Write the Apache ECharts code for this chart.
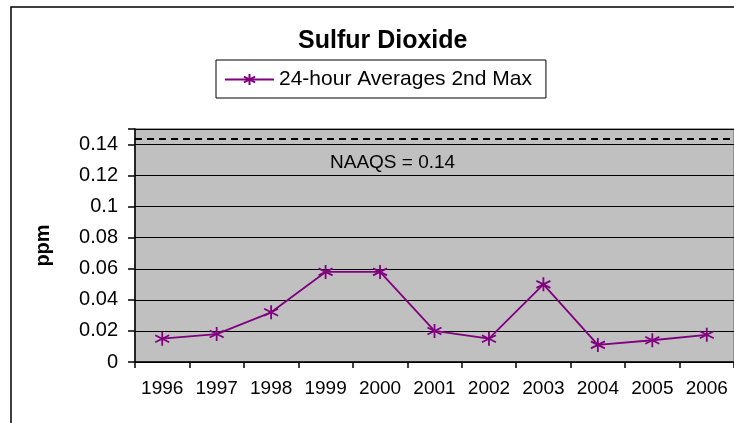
<!DOCTYPE html>
<html lang="en">
<head>
    <meta charset="UTF-8">
    <title>Sulfur Dioxide</title>
    <script src="https://cdn.jsdelivr.net/npm/echarts@6/dist/echarts.min.js"></script>
</head>
<body style="margin:0;">
<div id="main" style="width: 734px;height:423px;"></div>
<script>
    // data
    let years = ['1996', '1997', '1998', '1999', '2000', '2001', '2002', '2003', '2004', '2005', '2006']
    let secondMax = [0.015, 0.018, 0.032, 0.058, 0.058, 0.020, 0.015, 0.050, 0.011, 0.014, 0.0175]
    let naaqs = 0.1435
    let naaqsText = 'NAAQS = 0.14'

    let font = 'Liberation Sans, Arial, sans-serif'
    // asterisk marker like the old excel one
    let star = 'path://M5,0L5,10M0.7,2.5L9.3,7.5M0.7,7.5L9.3,2.5'

    var myChart = echarts.init(document.getElementById('main'));

    option = {
        animation: false,
        backgroundColor: '#fff',
        textStyle: {fontFamily: font},
        title: {
            text: 'Sulfur Dioxide',
            left: 293,
            top: 24,
            textStyle: {fontSize: 25, fontWeight: 'bold', color: '#000', fontFamily: font}
        },
        legend: {
            left: 216,
            top: 60,
            padding: [9, 14, 8, 8],
            borderColor: '#000',
            borderWidth: 1,
            itemWidth: 49,
            itemHeight: 14,
            itemGap: 5,
            textStyle: {fontSize: 21, color: '#000', fontFamily: font},
            data: ['24-hour Averages 2nd Max']
        },
        graphic: [
            {
                type: 'rect',
                z: -10,
                shape: {x: 11, y: 7, width: 800, height: 500},
                style: {fill: 'none', stroke: '#000', lineWidth: 1.5}
            },
            {
                type: 'text',
                left: 330,
                top: 153,
                z: 10,
                style: {text: naaqsText, fontSize: 19, fill: '#000', fontFamily: font}
            }
        ],
        grid: {
            left: 135,
            top: 129,
            right: -1,
            bottom: 61,
            show: true,
            backgroundColor: '#c0c0c0',
            borderColor: '#808080',
            borderWidth: 1.5
        },
        xAxis: {
            type: 'category',
            data: years,
            boundaryGap: true,
            axisLine: {lineStyle: {color: '#000', width: 1.5}},
            axisTick: {show: true, length: 6, lineStyle: {color: '#000', width: 1.5}},
            axisLabel: {color: '#000', fontSize: 19, margin: 17, fontFamily: font, interval: 0}
        },
        yAxis: {
            type: 'value',
            min: 0,
            max: 0.15,
            interval: 0.02,
            name: 'ppm',
            nameLocation: 'middle',
            nameRotate: 90,
            nameGap: 82,
            nameTextStyle: {fontSize: 20, fontWeight: 'bold', color: '#000', fontFamily: font},
            axisLine: {show: true, lineStyle: {color: '#000', width: 1.5}},
            axisTick: {show: true, length: 7, lineStyle: {color: '#000', width: 1.5}},
            axisLabel: {
                color: '#000', fontSize: 20, margin: 17, fontFamily: font,
                formatter: function (v) {
                    // 0.15 is only the top of the plot, excel shows no label there
                    return v > 0.149 ? '' : String(Math.round(v * 100) / 100)
                }
            },
            splitLine: {show: true, lineStyle: {color: '#000', width: 1.2}}
        },
        series: [
            {
                name: '24-hour Averages 2nd Max',
                type: 'line',
                data: secondMax,
                symbol: star,
                symbolSize: 14,
                lineStyle: {color: '#800080', width: 1.8},
                itemStyle: {color: '#800080', borderColor: '#800080', borderWidth: 1.8},
                markLine: {
                    silent: true,
                    symbol: ['none', 'none'],
                    precision: 4,
                    label: {show: false},
                    lineStyle: {color: '#000', width: 1.8, type: [7, 5]},
                    data: [{yAxis: naaqs}]
                }
            }
        ]
    };

    myChart.setOption(option);
</script>
</body>
</html>
